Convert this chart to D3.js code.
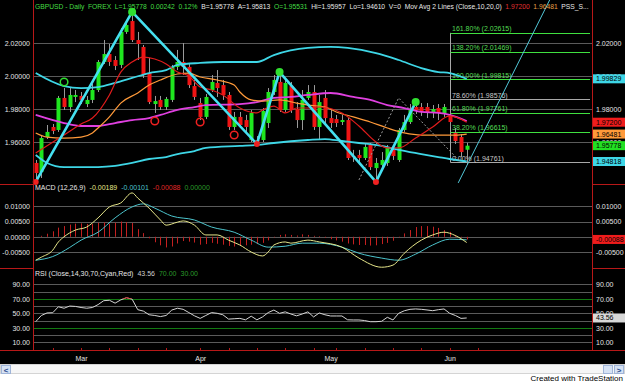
<!DOCTYPE html>
<html>
<head>
<meta charset="utf-8">
<title>GBPUSD daily</title>
<script src="https://cdn.jsdelivr.net/npm/d3@7/dist/d3.min.js"></script>
<style>
    html, body { margin: 0; padding: 0; background: #fff; }
    svg { display: block; font-family: "Liberation Sans", Arial, sans-serif; }
</style>
</head>
<body>
<svg id="chart" width="625" height="384"></svg>
<script>
(function () {
    'use strict';

    // GBPUSD daily bars, bar 0 = 20 Feb, bar 76 = 5 Jun
    var opens = [
        1.9473, 1.9418, 1.9630, 1.9691, 1.9673, 1.9867, 1.9812, 1.9873, 1.9879, 1.9830,
        1.9855, 1.9915, 2.0085, 2.0133, 2.0097, 2.0067, 2.0267, 2.0333, 2.0218, 2.0176,
        2.0018, 1.9830, 1.9855, 1.9812, 1.9855, 2.0055, 2.0085, 2.0055, 1.9939, 1.9836,
        1.9752, 1.9915, 1.9958, 1.9945, 1.9885, 1.9691, 1.9752, 1.9733, 1.9612, 1.9612,
        1.9612, 1.9715, 1.9903, 1.9964, 1.9794, 1.9939, 1.9800, 1.9733, 1.9867, 1.9903,
        1.9691, 1.9867, 1.9745, 1.9739, 1.9721, 1.9733, 1.9515, 1.9521, 1.9503, 1.9582,
        1.9442, 1.9461, 1.9473, 1.9552, 1.9491, 1.9673, 1.9721, 1.9812, 1.9812, 1.9812,
        1.9776, 1.9806, 1.9776, 1.9764, 1.9655, 1.9630, 1.95531
    ];
    var highs = [
        1.9491, 1.9636, 1.9703, 1.9709, 1.9879, 1.9927, 1.9927, 1.9915, 1.9903, 1.9879,
        1.9952, 2.0097, 2.0218, 2.0194, 2.0121, 2.0291, 2.0339, 2.0388, 2.0267, 2.0188,
        2.0109, 1.9879, 1.9879, 1.9873, 2.0067, 2.0158, 2.0200, 2.0073, 1.9976, 1.9867,
        1.9891, 2.0006, 2.0036, 1.9976, 1.9903, 1.9782, 1.9782, 1.9764, 1.9794, 1.9636,
        1.9806, 1.9927, 2.0006, 2.0024, 1.9988, 1.9964, 1.9842, 1.9915, 1.9945, 1.9945,
        1.9885, 1.9915, 1.9794, 1.9764, 1.9764, 1.9745, 1.9552, 1.9552, 1.9594, 1.9594,
        1.9503, 1.9539, 1.9582, 1.9582, 1.9685, 1.9764, 1.9830, 1.9842, 1.9836, 1.9836,
        1.9824, 1.9830, 1.9830, 1.9782, 1.9685, 1.9648, 1.95957
    ];
    var lows = [
        1.9358, 1.9382, 1.9618, 1.9648, 1.9661, 1.9794, 1.9782, 1.9842, 1.9830, 1.9812,
        1.9836, 1.9903, 2.0073, 2.0061, 2.0036, 2.0048, 2.0255, 2.0206, 2.0097, 1.9988,
        1.9830, 1.9776, 1.9794, 1.9794, 1.9842, 2.0036, 2.0006, 1.9927, 1.9855, 1.9733,
        1.9739, 1.9903, 1.9873, 1.9855, 1.9673, 1.9673, 1.9685, 1.9655, 1.9600, 1.9588,
        1.9600, 1.9685, 1.9885, 1.9782, 1.9782, 1.9776, 1.9685, 1.9673, 1.9855, 1.9673,
        1.9612, 1.9703, 1.9685, 1.9691, 1.9703, 1.9491, 1.9479, 1.9461, 1.9491, 1.9430,
        1.9358, 1.9442, 1.9455, 1.9491, 1.9479, 1.9661, 1.9709, 1.9770, 1.9758, 1.9745,
        1.9745, 1.9733, 1.9752, 1.9691, 1.9588, 1.9509, 1.94610
    ];
    var closes = [
        1.9412, 1.9624, 1.9661, 1.9667, 1.9867, 1.9812, 1.9885, 1.9885, 1.9855, 1.9855,
        1.9915, 2.0085, 2.0133, 2.0085, 2.0061, 2.0267, 2.0309, 2.0218, 2.0194, 2.0006,
        1.9842, 1.9848, 1.9812, 1.9861, 2.0055, 2.0085, 2.0055, 1.9945, 1.9873, 1.9752,
        1.9873, 1.9964, 1.9927, 1.9885, 1.9691, 1.9752, 1.9703, 1.9691, 1.9776, 1.9594,
        1.9788, 1.9903, 1.9976, 1.9794, 1.9958, 1.9794, 1.9733, 1.9855, 1.9903, 1.9691,
        1.9842, 1.9745, 1.9715, 1.9715, 1.9733, 1.9503, 1.9509, 1.9503, 1.9570, 1.9448,
        1.9473, 1.9491, 1.9564, 1.9515, 1.9673, 1.9721, 1.9794, 1.9794, 1.9782, 1.9776,
        1.9800, 1.9776, 1.9812, 1.9721, 1.9606, 1.9539, 1.95778
    ];

    // indicator readings as [bar, value]
    var avgFast = [[0, 1.9533], [5, 1.9642], [8, 1.9709], [10, 1.9745], [13, 1.9885], [15, 2.0024],
        [17, 2.0085], [19, 2.0115], [21, 2.0103], [23, 2.0073], [25, 2.0024], [27, 2.0000], [29, 1.9933],
        [31, 1.9915], [33, 1.9885], [36, 1.9806], [39, 1.9776], [40, 1.9794], [42, 1.9818], [44, 1.9776],
        [46, 1.9806], [48, 1.9806], [50, 1.9812], [54, 1.9776], [57, 1.9697], [60, 1.9600], [62, 1.9564],
        [64, 1.9564], [67, 1.9624], [70, 1.9691], [73, 1.9758], [76, 1.9720]];
    var avgSlow = [[0, 1.9655], [2, 1.9630], [5, 1.9624], [8, 1.9630], [10, 1.9655], [11, 1.9685],
        [13, 1.9752], [15, 1.9836], [18, 1.9897], [20, 1.9945], [22, 1.9976], [25, 2.0012], [27, 2.0018],
        [29, 1.9994], [32, 1.9976], [35, 1.9945], [36, 1.9903], [38, 1.9855], [40, 1.9848], [43, 1.9855],
        [46, 1.9836], [48, 1.9824], [51, 1.9812], [53, 1.9782], [56, 1.9752], [59, 1.9721], [62, 1.9685],
        [65, 1.9655], [68, 1.9642], [74, 1.9642], [76, 1.96481]];
    var avgLong = [[0, 1.9764], [5, 1.9715], [8, 1.9697], [11, 1.9697], [14, 1.9715], [17, 1.9733],
        [20, 1.9745], [22, 1.9764], [25, 1.9794], [28, 1.9812], [30, 1.9824], [36, 1.9830], [39, 1.9842],
        [42, 1.9867], [45, 1.9873], [48, 1.9885], [52, 1.9897], [56, 1.9873], [59, 1.9855], [62, 1.9824],
        [65, 1.9806], [68, 1.9782], [71, 1.9776], [73, 1.9764], [76, 1.9727]];
    var bandUpper = [[0, 2.0018], [5, 1.9939], [8, 1.9927], [11, 1.9933], [14, 1.9958], [17, 1.9988],
        [20, 2.0018], [23, 2.0036], [25, 2.0067], [29, 2.0079], [33, 2.0085], [39, 2.0085], [42, 2.0127],
        [48, 2.0170], [52, 2.0176], [55, 2.0170], [60, 2.0139], [64, 2.0097], [68, 2.0048], [71, 2.0024],
        [73, 2.0018], [76, 1.99829]];
    var bandLower = [[0, 1.9521], [2, 1.9473], [5, 1.9448], [11, 1.9448], [14, 1.9455], [17, 1.9473],
        [20, 1.9497], [23, 1.9509], [25, 1.9527], [28, 1.9545], [30, 1.9564], [36, 1.9576], [39, 1.9582],
        [42, 1.9594], [48, 1.9612], [51, 1.9618], [54, 1.9606], [57, 1.9594], [61, 1.9576], [64, 1.9552],
        [68, 1.9527], [71, 1.9509], [73, 1.9497], [76, 1.94818]];

    var swingPoints = [[0, 1.9358], [17, 2.0388], [39, 1.9588], [43, 2.0024], [60, 1.9358], [67, 1.9842]];
    var swingHighs = [[17, 2.0388], [43, 2.0024], [67, 1.9842]];
    var swingLows = [[0, 1.9358], [39, 1.9588], [60, 1.9358]];
    var openHighs = [[5, 1.9964]];
    var openLows = [[21, 1.9727], [29, 1.9721], [35, 1.9642]];
    var guidePath = [[57, 1.9370], [64, 1.9867], [75, 1.94761]];
    var trendPoints = [[74.5, 1.9352], [92, 2.0555]];

    var fibBar = 73;
    var fibPercents = ['161.80%', '138.20%', '100.00%', '78.60%', '61.80%', '38.20%', '0.00%'];
    var fibPrices = [2.02615, 2.01469, 1.99815, 1.98576, 1.97761, 1.96615, 1.94761];

    var macdLine = [[0, -0.0077], [1, -0.0067], [3, -0.0044], [4, -0.0017], [5, 0.0000], [7, 0.0022],
        [9, 0.0032], [11, 0.0062], [13, 0.0098], [15, 0.0111], [17, 0.0144], [18, 0.0127], [20, 0.0094],
        [22, 0.0055], [23, 0.0038], [25, 0.0048], [26, 0.0052], [28, 0.0038], [30, 0.0006], [32, 0.0006],
        [34, -0.0011], [36, -0.0027], [38, -0.0050], [40, -0.0063], [41, -0.0050], [42, -0.0027],
        [44, -0.0017], [45, -0.0021], [48, -0.0011], [50, -0.0017], [54, -0.0034], [57, -0.0070],
        [61, -0.0100], [63, -0.0093], [65, -0.0054], [68, -0.0011], [70, 0.0006], [72, 0.0015],
        [74, 0.0004], [76, -0.00189]];
    var macdSignal = [[0, -0.0077], [3, -0.0065], [6, -0.0035], [8, -0.0011], [11, 0.0015], [14, 0.0062],
        [17, 0.0098], [19, 0.0108], [21, 0.0094], [24, 0.0068], [28, 0.0055], [31, 0.0032], [35, 0.0015],
        [38, -0.0011], [41, -0.0034], [44, -0.0031], [47, -0.0021], [50, -0.0021], [54, -0.0034],
        [57, -0.0054], [61, -0.0070], [64, -0.0077], [67, -0.0057], [70, -0.0027], [73, -0.0008],
        [76, -0.00101]];
    var macdDiff = [
        0.0000, 0.0003, 0.0010, 0.0018, 0.0030, 0.0035, 0.0040, 0.0043, 0.0044, 0.0042,
        0.0042, 0.0046, 0.0047, 0.0043, 0.0046, 0.0050, 0.0048, 0.0045, 0.0025, 0.0012,
        -0.0005, -0.0018, -0.0028, -0.0035, -0.0032, -0.0022, -0.0014, -0.0016, -0.0019, -0.0026,
        -0.0024, -0.0020, -0.0023, -0.0026, -0.0030, -0.0032, -0.0030, -0.0028, -0.0026, -0.0024,
        -0.0020, -0.0012, -0.0002, 0.0006, 0.0008, 0.0006, 0.0004, 0.0008, 0.0006, 0.0003,
        0.0002, -0.0003, -0.0008, -0.0012, -0.0016, -0.0022, -0.0025, -0.0027, -0.0027, -0.0029,
        -0.0028, -0.0024, -0.0020, -0.0013, -0.0002, 0.0011, 0.0022, 0.0032, 0.0035, 0.0035,
        0.0033, 0.0029, 0.0022, 0.0016, 0.0006, -0.0002, -0.00088
    ];
    var rsi = [
        38.4, 47, 50.5, 50.8, 59, 57, 60, 59.5, 58, 57,
        58, 62, 67.4, 68, 64, 68.5, 71.5, 69.5, 55, 53,
        48, 47, 45.5, 47, 54.5, 57, 55.5, 51, 46.5, 43,
        47, 51, 50, 48, 42, 42.5, 43, 41, 46, 41,
        45, 51, 54.5, 50, 52, 49, 46.5, 49, 52, 45,
        50.5, 48, 46.3, 46.3, 46.3, 41, 40.8, 40.8, 40, 38.4,
        38.4, 39, 44.5, 40.8, 50, 53.5, 55.5, 56, 55.5, 54.6,
        53.6, 55, 56, 50, 47, 43, 43.56
    ];

    var priceTicks = [1.96, 1.98, 2.00, 2.02];
    var macdTicks = [-0.005, 0, 0.005, 0.01];
    var rsiTicks = [10, 30, 50, 70, 90];
    var rsiGrid = [10, 20, 30, 40, 50, 60, 70, 80, 90];
    var months = ['Mar', 'Apr', 'May', 'Jun'];
    var monthBars = [8, 29, 52, 73];
    var weekBars = [3, 8, 13, 18, 23, 29, 34, 39, 44, 49, 53, 58, 63, 68, 73, 78];

    var W = 625, H = 384,
        left = 33, right = 592,
        priceBottom = 184, macdBottom = 268, rsiBottom = 350, chartBottom = 364;

    var green = '#1fe61f', red = '#f01414', cyan = '#3ed6e6', fibGreen = '#3fe03f',
        grid = '#5a5a5a', axisRed = '#b81818', label = '#e4e4e4';

    var svg = d3.select('#chart');

    var x = d3.scaleLinear().domain([0, 76]).range([35.7, 466.7]);
    var yPrice = d3.scaleLinear().domain([1.94, 2.02]).range([175, 43]);
    var yMacd = d3.scaleLinear().domain([-0.005, 0.01]).range([252, 206.3]);
    var yRsi = d3.scaleLinear().domain([10, 90]).range([342.3, 284.3]);

    svg.append('rect').attr('width', W).attr('height', H).attr('fill', '#fff');
    svg.append('rect').attr('width', W).attr('height', chartBottom).attr('fill', '#000');

    var defs = svg.append('defs');
    function clip(id, y0, y1) {
        defs.append('clipPath').attr('id', id).append('rect')
            .attr('x', left + 1).attr('y', y0)
            .attr('width', right - left - 1).attr('height', y1 - y0);
        return 'url(#' + id + ')';
    }

    function hline(g, y, x1, x2, color) {
        var yy = Math.round(y) + 0.5;
        g.append('line').attr('x1', x1).attr('x2', x2).attr('y1', yy).attr('y2', yy)
            .attr('stroke', color).attr('stroke-width', 1);
    }

    function fmt5(v) { return v.toFixed(5); }
    function fmt2(v) { return v.toFixed(2); }

    function lineOf(yScale, curve) {
        return d3.line()
            .x(function (d) { return x(d[0]); })
            .y(function (d) { return yScale(d[1]); })
            .curve(curve || d3.curveLinear);
    }

    // ---- price panel ----
    var price = svg.append('g').attr('clip-path', clip('clip-price', 0, priceBottom));
    priceTicks.forEach(function (v) { hline(price, yPrice(v), left, right, grid); });

    var fib = price.append('g');
    var fibX = Math.round(x(fibBar)) + 0.5;
    fib.append('line')
        .attr('x1', fibX).attr('x2', fibX)
        .attr('y1', yPrice(fibPrices[0])).attr('y2', yPrice(fibPrices[fibPrices.length - 1]))
        .attr('stroke', '#a8a8a8');
    fibPrices.forEach(function (p, i) {
        var c = (fibPercents[i] === '78.60%' || fibPercents[i] === '0.00%') ? '#a8a8a8' : fibGreen;
        hline(fib, yPrice(p), fibX, right - 2, c);
        fib.append('text')
            .attr('x', fibX + 1.5).attr('y', yPrice(p) - 1.5)
            .attr('fill', c === fibGreen ? '#55dd55' : '#c8c8c8')
            .style('font-size', '7px')
            .text(fibPercents[i] + ' (' + p.toFixed(5) + ')');
    });

    var bars = d3.range(opens.length);
    var candles = price.append('g');
    candles.selectAll('line.wick').data(bars).enter().append('line')
        .attr('class', 'wick')
        .attr('x1', function (i) { return Math.round(x(i)) + 0.5; })
        .attr('x2', function (i) { return Math.round(x(i)) + 0.5; })
        .attr('y1', function (i) { return yPrice(highs[i]); })
        .attr('y2', function (i) { return yPrice(lows[i]); })
        .attr('stroke', '#9a9a9a').attr('stroke-width', 1);
    candles.selectAll('rect.body').data(bars).enter().append('rect')
        .attr('class', 'body')
        .attr('x', function (i) { return Math.round(x(i)) - 1.5; })
        .attr('width', 4)
        .attr('y', function (i) { return yPrice(Math.max(opens[i], closes[i])); })
        .attr('height', function (i) {
            return Math.max(1.2, Math.abs(yPrice(opens[i]) - yPrice(closes[i])));
        })
        .attr('fill', function (i) { return closes[i] >= opens[i] ? green : red; });

    var smooth = lineOf(yPrice, d3.curveMonotoneX);
    [[bandUpper, cyan, 1.8], [bandLower, cyan, 1.8], [avgLong, '#e040e0', 1.8],
        [avgSlow, '#ff9a3a', 1.2], [avgFast, '#e01c1c', 1.2]].forEach(function (s) {
        price.append('path').attr('d', smooth(s[0]))
            .attr('fill', 'none').attr('stroke', s[1]).attr('stroke-width', s[2]);
    });

    price.append('path').attr('d', lineOf(yPrice)(guidePath))
        .attr('fill', 'none').attr('stroke', '#9c9c9c')
        .attr('stroke-width', 1).attr('stroke-dasharray', '2,2');

    price.append('path').attr('d', lineOf(yPrice)(swingPoints))
        .attr('fill', 'none').attr('stroke', '#45e0f0').attr('stroke-width', 2.6)
        .attr('stroke-linejoin', 'round');

    price.append('path').attr('d', lineOf(yPrice)(trendPoints))
        .attr('fill', 'none').attr('stroke', '#52c8d8').attr('stroke-width', 1);

    var marks = svg.append('g');
    marks.selectAll('circle.hi').data(swingHighs).enter().append('circle')
        .attr('cx', function (d) { return x(d[0]); })
        .attr('cy', function (d) { return yPrice(d[1]); })
        .attr('r', 4).attr('fill', '#30e030');
    marks.selectAll('circle.lo').data(swingLows).enter().append('circle')
        .attr('cx', function (d) { return x(d[0]); })
        .attr('cy', function (d) { return yPrice(d[1]); })
        .attr('r', 3).attr('fill', '#f02020');
    marks.selectAll('circle.oh').data(openHighs).enter().append('circle')
        .attr('cx', function (d) { return x(d[0]); })
        .attr('cy', function (d) { return yPrice(d[1]); })
        .attr('r', 3.8).attr('fill', 'none').attr('stroke', '#30e030').attr('stroke-width', 1.5);
    marks.selectAll('circle.ol').data(openLows).enter().append('circle')
        .attr('cx', function (d) { return x(d[0]); })
        .attr('cy', function (d) { return yPrice(d[1]); })
        .attr('r', 3.8).attr('fill', 'none').attr('stroke', '#f02020').attr('stroke-width', 1.5);

    // ---- MACD panel ----
    var macd = svg.append('g').attr('clip-path', clip('clip-macd', priceBottom, macdBottom));
    macdTicks.forEach(function (v) { hline(macd, yMacd(v), left, right, grid); });
    macd.selectAll('line.diff').data(bars).enter().append('line')
        .attr('x1', function (i) { return Math.round(x(i)) + 0.5; })
        .attr('x2', function (i) { return Math.round(x(i)) + 0.5; })
        .attr('y1', yMacd(0))
        .attr('y2', function (i) { return yMacd(macdDiff[i]); })
        .attr('stroke', '#c42020').attr('stroke-width', 1);
    var macdCurve = lineOf(yMacd, d3.curveMonotoneX);
    macd.append('path').attr('d', macdCurve(macdSignal))
        .attr('fill', 'none').attr('stroke', '#4cc4cc').attr('stroke-width', 1);
    macd.append('path').attr('d', macdCurve(macdLine))
        .attr('fill', 'none').attr('stroke', '#e6e68a').attr('stroke-width', 1);

    // ---- RSI panel ----
    var rsiG = svg.append('g').attr('clip-path', clip('clip-rsi', macdBottom, rsiBottom));
    rsiGrid.forEach(function (v) {
        hline(rsiG, yRsi(v), left, right, (v === 70 || v === 30) ? '#127a12' : grid);
    });
    var rsiPts = rsi.map(function (v, i) { return [i, v]; });
    rsiG.append('path').attr('d', lineOf(yRsi)(rsiPts))
        .attr('fill', 'none').attr('stroke', '#d4d4d4').attr('stroke-width', 1);
    defs.append('clipPath').attr('id', 'clip-over').append('rect')
        .attr('x', left).attr('y', macdBottom).attr('width', right - left)
        .attr('height', yRsi(70) - macdBottom);
    rsiG.append('g').attr('clip-path', 'url(#clip-over)')
        .append('path').attr('d', lineOf(yRsi)(rsiPts))
        .attr('fill', 'none').attr('stroke', '#e02020').attr('stroke-width', 1);

    // ---- axes ----
    function axisText(g) {
        g.select('.domain').remove();
        g.selectAll('text').attr('fill', label)
            .style('font-size', '7px')
            .style('font-family', '"Liberation Sans", Arial, sans-serif');
    }
    [[yPrice, priceTicks, fmt5], [yMacd, macdTicks, fmt5], [yRsi, rsiTicks, fmt2]].forEach(function (a) {
        svg.append('g').attr('transform', 'translate(' + left + ',0)')
            .call(d3.axisLeft(a[0]).tickValues(a[1]).tickSize(0).tickPadding(3).tickFormat(a[2]))
            .call(axisText);
        svg.append('g').attr('transform', 'translate(' + right + ',0)')
            .call(d3.axisRight(a[0]).tickValues(a[1]).tickSize(0).tickPadding(4).tickFormat(a[2]))
            .call(axisText);
    });

    svg.append('g').attr('transform', 'translate(0,' + rsiBottom + ')')
        .call(d3.axisBottom(x).tickValues(monthBars).tickSize(0).tickPadding(6)
            .tickFormat(function (d, i) { return months[i]; }))
        .call(axisText);

    var frame = svg.append('g').attr('stroke', axisRed).attr('stroke-width', 1);
    frame.append('line').attr('x1', left + 0.5).attr('x2', left + 0.5).attr('y1', 0).attr('y2', rsiBottom);
    frame.append('line').attr('x1', right + 0.5).attr('x2', right + 0.5).attr('y1', 0).attr('y2', rsiBottom);
    frame.append('line').attr('x1', 0).attr('x2', W).attr('y1', rsiBottom + 0.5).attr('y2', rsiBottom + 0.5);
    [priceBottom, macdBottom].forEach(function (y) {
        frame.append('line').attr('x1', 0).attr('x2', left).attr('y1', y + 0.5).attr('y2', y + 0.5);
        frame.append('line').attr('x1', right).attr('x2', W).attr('y1', y + 0.5).attr('y2', y + 0.5);
    });
    weekBars.forEach(function (b) {
        var xx = Math.round(x(b)) + 0.5;
        frame.append('line').attr('x1', xx).attr('x2', xx).attr('y1', rsiBottom - 2).attr('y2', rsiBottom);
    });

    // ---- last value tags ----
    function tag(y, text, bg) {
        svg.append('rect').attr('x', right + 1).attr('y', y - 4.5)
            .attr('width', W - right - 1).attr('height', 9).attr('fill', bg);
        svg.append('text').attr('x', right + 4).attr('y', y + 2.5)
            .attr('fill', '#000').style('font-size', '7px').text(text);
    }
    tag(yPrice(bandUpper[bandUpper.length - 1][1]), '1.99829', '#3ed6e6');
    tag(yPrice(avgFast[avgFast.length - 1][1]), '1.97200', '#f01c1c');
    tag(yPrice(avgSlow[avgSlow.length - 1][1]), '1.96481', '#ff9a3a');
    tag(yPrice(closes[closes.length - 1]), '1.95778', '#22e022');
    tag(yPrice(bandLower[bandLower.length - 1][1]), '1.94818', '#3ed6e6');
    tag(yMacd(macdDiff[macdDiff.length - 1]), '-0.00088', '#f01c1c');
    tag(yRsi(rsi[rsi.length - 1]), '43.56', '#d8d8d8');

    // ---- panel headers ----
    function header(y, parts, gap, fit) {
        var t = svg.append('text').attr('x', 35).attr('y', y).style('font-size', '7px');
        parts.forEach(function (p, i) {
            t.append('tspan').attr('dx', i ? gap : 0).attr('fill', p[1]).text(p[0]);
        });
        if (fit) {
            var w = t.node().getBBox().width;
            t.style('font-size', (7 * fit / w) + 'px');
        }
    }
    var hg = '#44dd44', hw = '#e8e8e8';
    header(8.5, [['GBPUSD - Daily', hg], ['FOREX', hg], ['L=1.95778', hg], ['0.00242', hg], ['0.12%', hg],
        ['B=1.95778', hw], ['A=1.95813', hw], ['O=1.95531', hg], ['Hi=1.95957', hw], ['Lo=1.94610', hw],
        ['V=0', hw], ['Mov Avg 2 Lines (Close,10,20,0)', hw], ['1.97200', '#e03030'],
        ['1.96481', '#e8a048'], ['PSS_S...', hw]], '0.55em', 554);
    header(189.5, [['MACD (12,26,9)', hw], ['-0.00189', '#e6e68a'], ['-0.00101', '#4cc4cc'],
        ['-0.00088', '#e02828'], ['0.00000', '#2a9a2a']], 4);
    header(276, [['RSI (Close,14,30,70,Cyan,Red)', hw], ['43.56', '#cfcfcf'], ['70.00', '#2a9a2a'],
        ['30.00', '#2a9a2a']], 4);

    // ---- scroll strip and footer ----
    svg.append('rect').attr('x', 0.5).attr('y', chartBottom + 0.5).attr('width', W - 1).attr('height', 9)
        .attr('fill', '#f6f6f6').attr('stroke', '#d4d4d4');
    [[1, '<'], [603, ''], [614, '>']].forEach(function (b) {
        svg.append('rect').attr('x', b[0] + 0.5).attr('y', chartBottom + 1.5).attr('width', 9).attr('height', 8)
            .attr('fill', '#d6e2f4').attr('stroke', '#9fb4d8');
        svg.append('text').attr('x', b[0] + 5).attr('y', chartBottom + 8.5)
            .attr('text-anchor', 'middle').attr('fill', '#2a4a8a')
            .style('font-size', '8px').style('font-weight', 'bold').text(b[1]);
    });
    svg.append('text').attr('x', 623).attr('y', 381).attr('text-anchor', 'end')
        .attr('fill', '#000').style('font-size', '8px').text('Created with TradeStation');
})();
</script>
</body>
</html>
